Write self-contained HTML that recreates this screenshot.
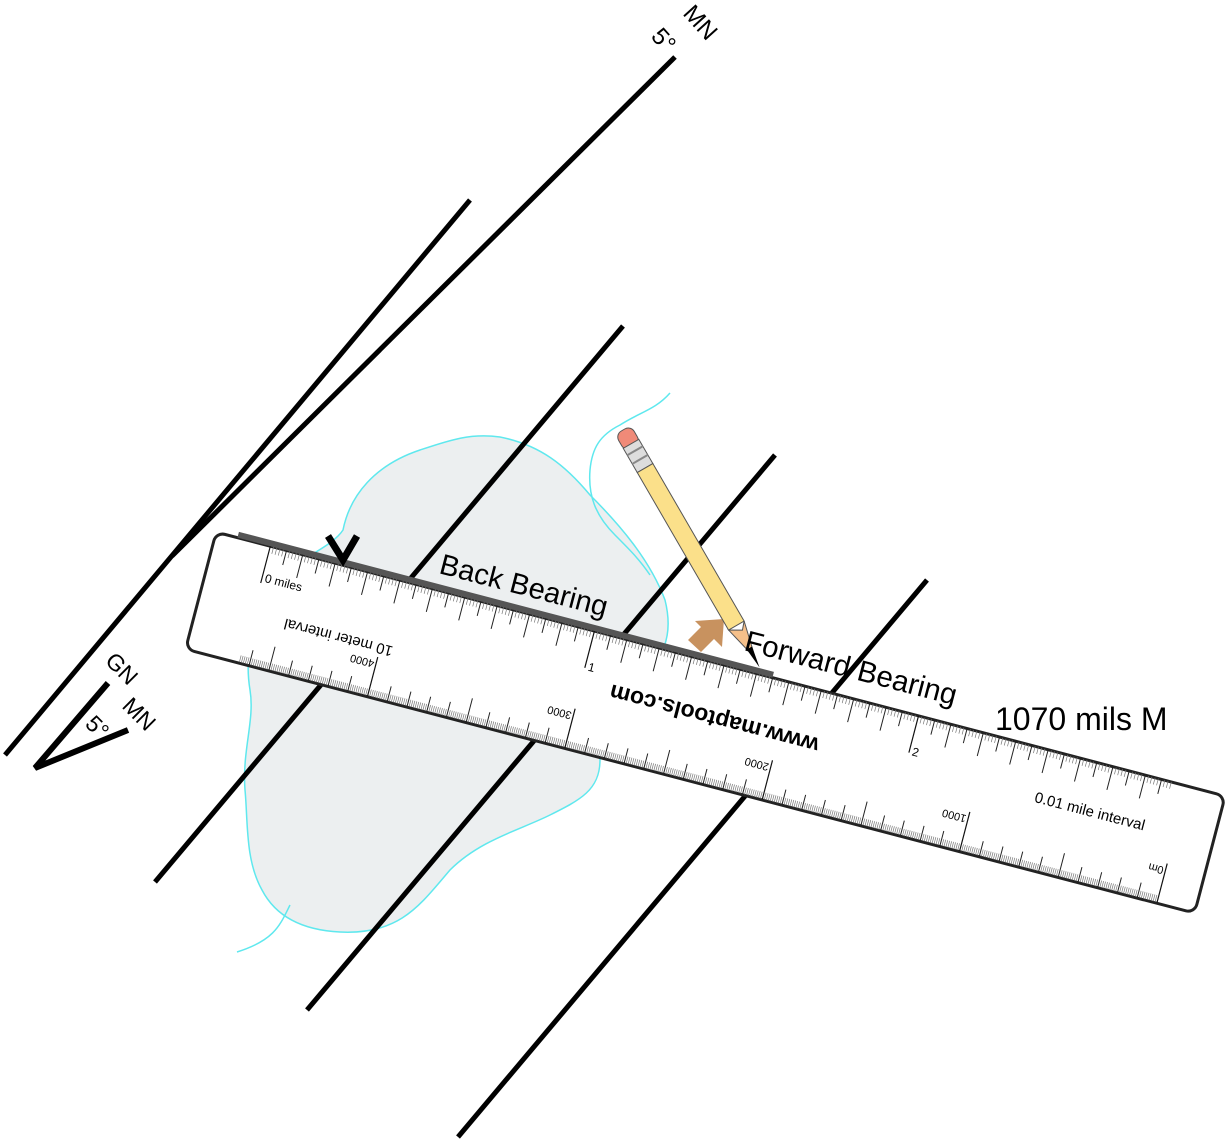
<!DOCTYPE html>
<html><head><meta charset="utf-8"><style>
html,body{margin:0;padding:0;background:#fff;}
svg{display:block;font-family:"Liberation Sans",sans-serif;}
</style></head><body>
<svg id="s" width="1227" height="1143" viewBox="0 0 1227 1143" xmlns="http://www.w3.org/2000/svg">
<!-- lake -->
<path d="M343,530 C350,495 375,465 420,450 C450,440 470,433 500,437 C540,445 565,465 590,495 C620,525 650,560 665,600 C675,640 660,660 640,680 C610,710 600,740 600,760 C600,790 580,800 550,815 C520,830 480,840 450,870 C420,905 400,935 340,932 C300,930 275,915 262,890 C245,860 248,820 245,790 C242,750 255,720 250,690 C245,660 250,620 270,590 C290,560 330,550 343,530 Z" fill="#eceff0" stroke="#5fe8ee" stroke-width="1.5"/>
<path d="M290,905 C280,925 275,940 237,952" fill="none" stroke="#5fe8ee" stroke-width="1.5"/>
<path d="M670,393 C655,410 640,412 620,425 C600,435 592,448 590,470 C588,495 595,515 615,535 C630,550 640,560 650,575" fill="none" stroke="#5fe8ee" stroke-width="1.5"/>
<!-- lines -->
<g stroke="#000" stroke-width="5" stroke-linecap="butt">
<line x1="675" y1="57" x2="172" y2="556"/>
<line x1="470" y1="200" x2="5" y2="755"/>
<line x1="623" y1="326" x2="155" y2="882"/>
<line x1="775" y1="455" x2="307" y2="1010"/>
<line x1="927" y1="580" x2="458" y2="1137"/>
<polyline points="108,683 35,768 128,730" fill="none" stroke-width="6"/>
</g>
<text transform="translate(104,662) rotate(45)" font-size="23">GN</text>
<text transform="translate(121,707) rotate(45)" font-size="23">MN</text>
<text transform="translate(84,725) rotate(45)" font-size="23">5°</text>
<text transform="translate(682,14) rotate(48)" font-size="24">MN</text>
<text transform="translate(650,37) rotate(48)" font-size="24">5°</text>
<!-- ruler -->
<g transform="translate(705,722) rotate(14.66)">
<rect x="-521" y="-60" width="1043" height="121" rx="9" fill="#fff" stroke="#222" stroke-width="3"/>
<line x1="-499" y1="-63" x2="54" y2="-63" stroke="#555" stroke-width="6"/>
<g id="ticks" stroke="#222" stroke-width="1"></g>
<text x="-462" y="-24" font-size="12">0 miles</text>
<text x="-127" y="-20" font-size="12">1</text>
<text x="208" y="-20" font-size="12">2</text>
<text transform="translate(-376,6) rotate(180)" font-size="15" text-anchor="middle">10 meter interval</text>
<text transform="translate(8,-13) rotate(180)" font-size="23" font-weight="bold" text-anchor="middle">www.maptools.com</text>
<text x="395" y="-6" font-size="15" text-anchor="middle">0.01 mile interval</text>
<g id="mlab" font-size="11"></g>
</g>
<!-- V mark -->
<polyline points="328,536 343,560 357,536" fill="none" stroke="#000" stroke-width="7"/>
<!-- house arrow -->
<polygon points="724,619 722,647 714,639 701,652 688,640 701,627 695,621" fill="#c8925f"/>
<!-- pencil -->
<g transform="translate(623,430) rotate(59.9)">
<rect x="0" y="-9" width="20" height="18" rx="7" fill="#f08a78" stroke="#555" stroke-width="1"/>
<rect x="16" y="-9" width="28" height="18" fill="#ddd" stroke="#555" stroke-width="1"/>
<line x1="24" y1="-9" x2="24" y2="9" stroke="#888" stroke-width="2"/>
<line x1="34" y1="-9" x2="34" y2="9" stroke="#888" stroke-width="2"/>
<rect x="44" y="-9" width="182" height="18" fill="#fbe08a" stroke="#555" stroke-width="1"/>
<polygon points="226,-9 233,-3 226,9 264,0" fill="#f6c08a" stroke="#555" stroke-width="1"/>
<polygon points="252,-3 274,1 252,3" fill="#000"/>
</g>
<text transform="translate(438,573) rotate(14.66)" font-size="29">Back Bearing</text>
<text transform="translate(743,650) rotate(14.66)" font-size="29.5">Forward Bearing</text>
<text x="995" y="730" font-size="32">1070 mils M</text>
</svg>
<script>
var g=document.getElementById('ticks'),h='';
function L(x,y1,y2,w,c){h+='<line x1="'+x+'" y1="'+y1+'" x2="'+x+'" y2="'+y2+'" stroke-width="'+w+'" stroke="'+(c||'#222')+'"/>';}
for(var i=0;i<=278;i++){var x=-465+i*3.35;var len=7,w=0.7,c='#777';
 if(i%100==0){len=38;w=1.2;c='#111';}else if(i%10==0){len=24;w=1;c='#222';}else if(i%5==0){len=15;w=1;c='#222';}
 L(x.toFixed(2),-60,-60+len,w,c);}
for(var j=0;j<=465;j++){var x=483-j*2.04;var len=7,w=0.7,c='#777';
 if(j%100==0){len=40;w=1.2;c='#111';}else if(j%50==0){len=24;w=1;c='#222';}else if(j%10==0){len=15;w=1;c='#222';}
 L(x.toFixed(2),60,60-len,w,c);}
g.innerHTML=h;
var m=document.getElementById('mlab'),t='';
[[483,'0m'],[279,'1000'],[75,'2000'],[-129,'3000'],[-333,'4000']].forEach(function(a){t+='<text transform="translate('+(a[0]-2)+',24) rotate(180)">'+a[1]+'</text>';});
m.innerHTML=t;
</script>
</body></html>
